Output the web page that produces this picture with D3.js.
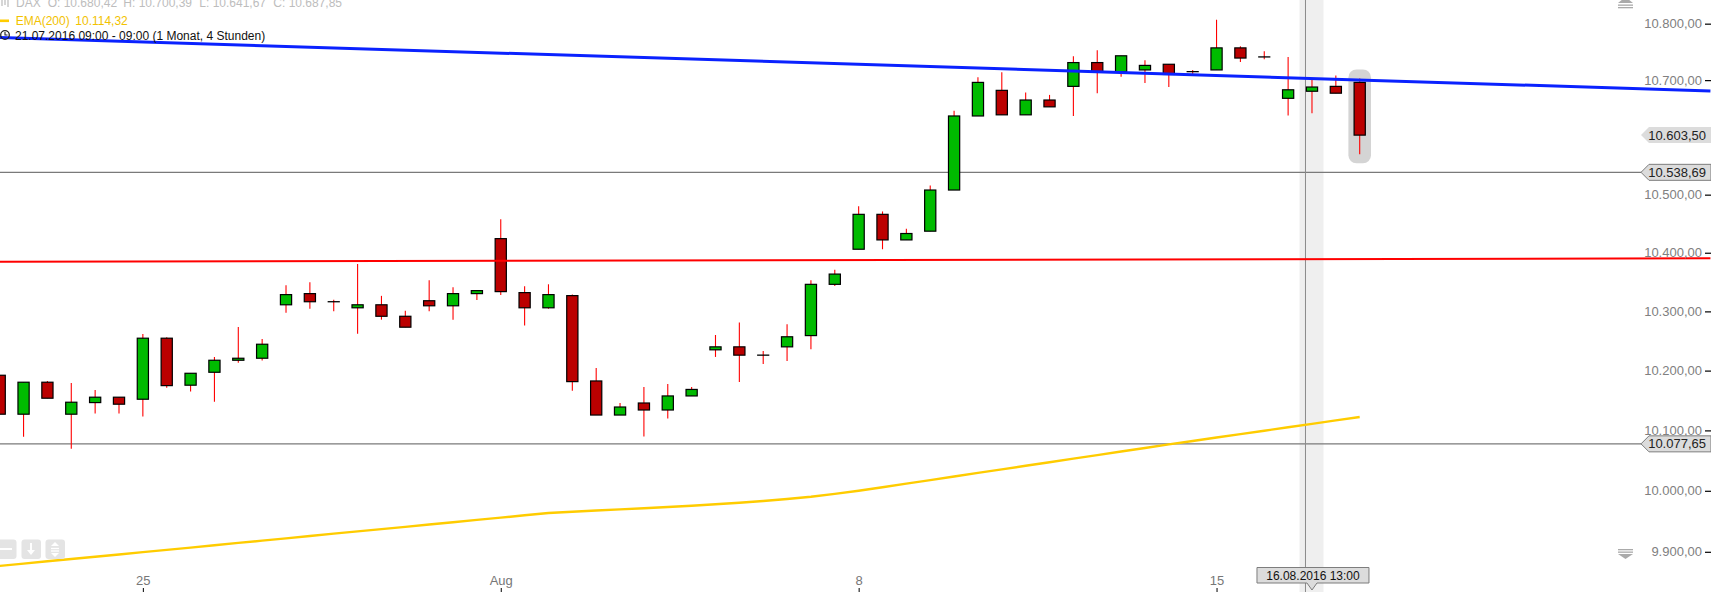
<!DOCTYPE html>
<html><head><meta charset="utf-8">
<script src="https://cdn.jsdelivr.net/npm/d3@7"></script>
<style>
html,body{margin:0;padding:0;background:#fff;overflow:hidden}
svg{display:block}
text{font-family:"Liberation Sans",Arial,sans-serif}
</style>
</head><body>
<svg id="c" width="1711" height="592"></svg>
<script>
// ---------- data ----------
const days = ["21.07.2016","22.07.2016","25.07.2016","26.07.2016","27.07.2016","28.07.2016","29.07.2016",
  "01.08.2016","02.08.2016","03.08.2016","04.08.2016","05.08.2016","08.08.2016","09.08.2016","10.08.2016",
  "11.08.2016","12.08.2016","15.08.2016","16.08.2016","17.08.2016"];
const hours = ["09:00","13:00","17:00"];
const open = [10192.2,10127.0,10180.5,10127.0,10146.4,10155.4,10152.0,10254.6,10175.5,10197.2,
  10217.4,10220.8,10311.2,10330.2,10316.4,10306.1,10311.2,10291.7,10318.1,10309.5,
  10330.2,10424.2,10331.9,10306.1,10326.8,10182.6,10125.6,10145.7,10134.0,10157.5,
  10235,10240,10226,10240,10259,10346,10406,10466,10422,10437,
  10508,10637,10682,10639,10665,10689,10731,10715,10718,10728,
  10715,10718,10757,10741,10668,10680.42,10689,10696];
const high = [10192.2,10180.5,10182.6,10179.3,10167.6,10155.4,10261.8,10256.3,10195.5,10222.9,
  10273.7,10253.4,10344.5,10349.6,10319.9,10380.6,10326.4,10301.2,10353.0,10341.0,
  10335.3,10457.7,10342.7,10346.1,10328.5,10204.4,10145.7,10172.5,10177.5,10172.5,
  10260,10281,10233,10278,10353,10371,10480,10471,10441,10516,
  10646,10705,10714,10678,10674,10742,10753,10743,10735,10728,
  10718,10807,10760,10751,10741,10700.39,10708,10703];
const low = [10127.0,10089.6,10153.7,10069.7,10128.0,10128.0,10123.0,10171.4,10164.8,10148.0,
  10213.4,10216.8,10297.8,10304.5,10300.3,10262.3,10286.0,10273.2,10300.3,10286.0,
  10319.4,10327.8,10275.9,10304.5,10166.4,10125.6,10125.6,10090,10120,10157.5,
  10223,10181,10211,10216,10236,10343,10406,10406,10422,10437,
  10508,10637,10639,10639,10653,10637,10677,10706,10695,10688,
  10710,10718,10732,10737,10638,10641.67,10677,10570];
const close = [10127.0,10180.5,10153.7,10147.0,10155.4,10143.7,10254.6,10174.8,10195.5,10217.4,
  10220.8,10244.4,10328.5,10316.4,10316.4,10311.2,10291.7,10273.2,10309.5,10330.2,
  10335.3,10333.6,10306.1,10328.5,10181.5,10125.6,10139,10134,10157.5,10168.4,
  10240,10226,10226,10257,10346,10363.5,10466,10422,10433,10508,
  10637,10696,10639,10665,10653,10731,10715,10743,10726,10710,
  10715,10757,10739,10741,10683,10687.85,10677,10603.5];
const ema200 = [9877,9880.7,9884.5,9888.2,9892,9895.7,9899.4,9903.2,9906.9,9910.7,
  9914.5,9918.2,9922,9925.8,9929.6,9933.3,9937.1,9940.8,9944.6,9948.4,
  9952.2,9955.9,9959.7,9963.6,9965.6,9967.6,9969.5,9971.4,9973.4,9975.5,
  9977.8,9980.4,9983.3,9986.6,9990.3,9994.9,10000,10005.9,10011.8,10017.7,
  10023.6,10029.5,10035.4,10041.3,10047.2,10053.1,10059,10064.9,10070.8,10076.7,
  10082.4,10088.1,10093.8,10099.5,10105.2,10110.9,10116.6,10122.3];
const yTicks = [9900,10000,10100,10200,10300,10400,10500,10700,10800];
const xTickIdx = [6,21,36,51];
const xTickLabels = ["25","Aug","8","15"];
const blueTrend = [[0,10775.5],[71.7,10681]];
const redTrend = [[0,10384.7],[71.7,10390.5]];
const hLines = [10538.69,10077.65];
const lastClose = 10603.50;
const crossIdx = 55;
const headerItems = ["DAX","O: 10.680,42","H: 10.700,39","L: 10.641,67","C: 10.687,85"];
const emaLabel = ["EMA(200)","10.114,32"];
const periodLabel = "21.07.2016 09:00 - 09:00 (1 Monat, 4 Stunden)";

// ---------- build ----------
const cats = [];
days.forEach(d => hours.forEach(h => cats.push(d + " " + h)));
const candles = open.map((o,i) => ({i, o, h:high[i], l:low[i], c:close[i], t:cats[i]}));

const W = 1711, H = 592;
const svg = d3.select("#c");
const x = d3.scaleLinear().domain([0,57]).range([-0.3,1359.7]);
const y = d3.scaleLog().domain([9900,10800]).range([551.8,23.67]);
const de = d3.formatLocale({decimal:",", thousands:".", grouping:[3], currency:["","€"]});
const fmt = de.format(",.2f");

// crosshair band
svg.append("rect").attr("x", x(crossIdx)-12.5).attr("y",0).attr("width",24).attr("height",H)
  .attr("fill","#efefef");

// last candle highlight
svg.append("rect").attr("x", x(57)-11.3).attr("y", y(high[57])-9).attr("width",22.6)
  .attr("height", y(low[57]) - y(high[57]) + 18).attr("rx",8).attr("fill","#d4d4d4");

// horizontal gray lines
svg.selectAll("line.hl").data(hLines).join("line").attr("class","hl")
  .attr("x1",0).attr("x2",1645).attr("y1",d=>y(d)).attr("y2",d=>y(d))
  .attr("stroke","#7a7a7a").attr("stroke-width",1.2);

// crosshair vertical
svg.append("line").attr("x1", x(crossIdx)-6.5).attr("x2", x(crossIdx)-6.5).attr("y1",0).attr("y2",H)
  .attr("stroke","#8a8a8a").attr("stroke-width",1);

// EMA
svg.append("path").datum(ema200).attr("fill","none").attr("stroke","#ffcc00").attr("stroke-width",2.4)
  .attr("d", d3.line().x((d,i)=>x(i)).y(d=>y(d)));

// wicks
svg.selectAll("line.wick").data(candles).join("line").attr("class","wick")
  .attr("x1",d=>x(d.i)).attr("x2",d=>x(d.i)).attr("y1",d=>y(d.h)).attr("y2",d=>y(d.l))
  .attr("stroke","#ff0000").attr("stroke-width",1.1);

// bodies
const bw = 11.2;
svg.selectAll("rect.body").data(candles.filter(d=>d.o!==d.c)).join("rect").attr("class","body")
  .attr("x",d=>x(d.i)-bw/2).attr("width",bw)
  .attr("y",d=>y(Math.max(d.o,d.c))).attr("height",d=>Math.max(1,Math.abs(y(d.o)-y(d.c))))
  .attr("fill",d=>d.c>d.o?"#00bb00":"#bb0000").attr("stroke","#000").attr("stroke-width",1.2);
svg.selectAll("line.doji").data(candles.filter(d=>d.o===d.c)).join("line").attr("class","doji")
  .attr("x1",d=>x(d.i)-bw/2-0.5).attr("x2",d=>x(d.i)+bw/2+0.5).attr("y1",d=>y(d.o)).attr("y2",d=>y(d.o))
  .attr("stroke","#000").attr("stroke-width",1.3);

// red trend line
svg.append("line").attr("x1",x(redTrend[0][0])).attr("y1",y(redTrend[0][1]))
  .attr("x2",x(redTrend[1][0])).attr("y2",y(redTrend[1][1]))
  .attr("stroke","#ff0000").attr("stroke-width",2);
// blue trend line
svg.append("line").attr("x1",x(blueTrend[0][0])).attr("y1",y(blueTrend[0][1]))
  .attr("x2",x(blueTrend[1][0])).attr("y2",y(blueTrend[1][1]))
  .attr("stroke","#0a22ff").attr("stroke-width",3);

// y axis
const yAxis = d3.axisLeft(y).tickValues(yTicks).tickFormat(fmt).tickSize(6).tickPadding(3);
const ga = svg.append("g").attr("transform",`translate(${W},0)`).call(yAxis);
ga.select(".domain").remove();
ga.selectAll("line").attr("stroke","#000").attr("stroke-width",1.2);
ga.selectAll("text").attr("fill","#808080").style("font-size","13px")
  .style("font-family","'Liberation Sans',Arial,sans-serif");

// price tags
function tag(v, bordered) {
  const yc = y(v), h2 = 8;
  const g = svg.append("g");
  g.append("path").attr("d",`M1641,${yc} L1649,${yc-h2} L${W},${yc-h2} L${W},${yc+h2} L1649,${yc+h2} Z`)
    .attr("fill","#dcdcdc").attr("stroke",bordered?"#7d7d7d":"none").attr("stroke-width",1);
  g.append("text").attr("x",1706).attr("y",yc+4.5).attr("text-anchor","end")
    .attr("fill","#222").style("font-size","13px").text(fmt(v));
}
tag(lastClose,false);
hLines.forEach(v=>tag(v,true));

// x axis (labels above ticks)
const xAxis = d3.axisTop(x).tickValues(xTickIdx).tickFormat((d,k)=>xTickLabels[k]).tickSize(4).tickPadding(3);
const gx = svg.append("g").attr("transform",`translate(0,${H})`).call(xAxis);
gx.select(".domain").remove();
gx.selectAll("line").attr("stroke","#000");
gx.selectAll("text").attr("fill","#777").style("font-size","13px");

// crosshair date tag
const cx = x(crossIdx);
svg.append("path").attr("d",`M${cx-55},567.5 H${cx+57} V583 H${cx+5} L${cx},590 L${cx-5},583 H${cx-55} Z`)
  .attr("fill","#dcdcdc").attr("stroke","#7d7d7d");
svg.append("text").attr("x",cx+1).attr("y",579.5).attr("text-anchor","middle").attr("fill","#111")
  .style("font-size","12px").text(cats[crossIdx]);

// header
const hg = svg.append("g");
const hx = [16,47.7,123.3,199.3,273.3];
hg.selectAll("text.hd").data(headerItems).join("text").attr("class","hd")
  .attr("x",(d,k)=>hx[k]).attr("y",7).attr("fill","#bdbdbd").style("font-size","12px").text(d=>d);
[[2,-2,6],[5,-4,5],[8,-1,7]].forEach(([xx,y0,y1])=>hg.append("line").attr("x1",xx).attr("x2",xx).attr("y1",y0).attr("y2",y1).attr("stroke","#c8c8c8").attr("stroke-width",1.5));
hg.append("rect").attr("x",0).attr("y",19.5).attr("width",9).attr("height",2.6).attr("fill","#ffcc00");
hg.append("text").attr("x",15.7).attr("y",24.5).attr("fill","#f2c200").style("font-size","12px").text(emaLabel[0]);
hg.append("text").attr("x",75.3).attr("y",24.5).attr("fill","#f2c200").style("font-size","12px").text(emaLabel[1]);
hg.append("circle").attr("cx",5).attr("cy",35).attr("r",4.3).attr("fill","none").attr("stroke","#222").attr("stroke-width",1.3);
hg.append("path").attr("d","M5,32 V35 H7.5").attr("fill","none").attr("stroke","#222").attr("stroke-width",1.1);
hg.append("text").attr("x",15).attr("y",39.5).attr("fill","#111").style("font-size","12px").text(periodLabel);

// scroll icons right
function scrollIcon(cy, up) {
  const g = svg.append("g").attr("fill","#aaa");
  if (up) {
    g.append("path").attr("d",`M1618,${cy+1} L1625.5,${cy-5} L1633,${cy+1} Z`);
    g.append("rect").attr("x",1618).attr("y",cy+2.5).attr("width",15).attr("height",1.3);
    g.append("rect").attr("x",1618).attr("y",cy+5).attr("width",15).attr("height",1.3);
  } else {
    g.append("rect").attr("x",1618).attr("y",cy-6).attr("width",15).attr("height",1.3);
    g.append("rect").attr("x",1618).attr("y",cy-3.5).attr("width",15).attr("height",1.3);
    g.append("path").attr("d",`M1618,${cy-1} L1625.5,${cy+4} L1633,${cy-1} Z`);
  }
}
scrollIcon(2,true);
scrollIcon(555,false);

// bottom-left buttons
[-3,21.5,45.5].forEach(bx=>{
  svg.append("rect").attr("x",bx).attr("y",539.5).attr("width",19.5).attr("height",19.5).attr("rx",3).attr("fill","#e4e4e4");
});
const ic = svg.append("g").attr("stroke","#fff").attr("fill","#fff").attr("stroke-width",2);
ic.append("line").attr("x1",0).attr("x2",12).attr("y1",549).attr("y2",549);
ic.append("line").attr("x1",31).attr("x2",31).attr("y1",543).attr("y2",552);
ic.append("path").attr("d","M27,550 L31,555 L35,550 Z").attr("stroke","none");
ic.append("path").attr("d","M51,546 L55,542 L59,546 Z").attr("stroke","none");
ic.append("path").attr("d","M51,553 L55,557 L59,553 Z").attr("stroke","none");
ic.append("line").attr("x1",51).attr("x2",59).attr("y1",548.5).attr("y2",548.5).attr("stroke-width",1.3);
ic.append("line").attr("x1",51).attr("x2",59).attr("y1",551).attr("y2",551).attr("stroke-width",1.3);
</script>
</body></html>
